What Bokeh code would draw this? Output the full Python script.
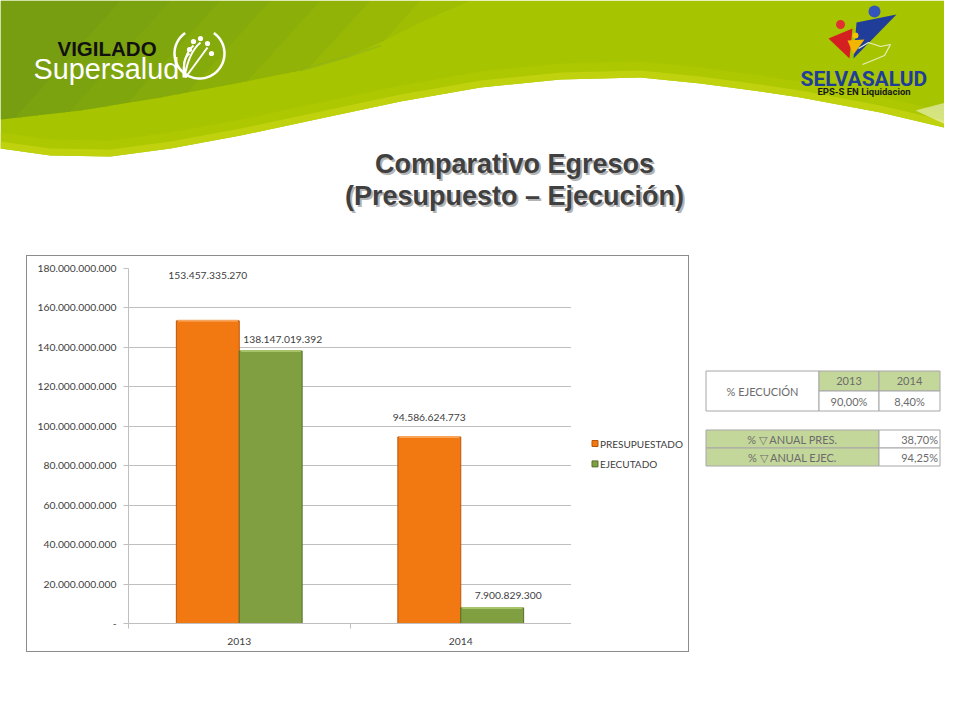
import numpy as np
from bokeh.plotting import figure
from bokeh.models import (Range1d, FixedTicker, CustomJSTickFormatter, ColumnDataSource,
                          LabelSet, Spacer)
from bokeh.layouts import column, row
from bokeh.transform import dodge
from bokeh.core.properties import value
from bokeh.embed import file_html
from bokeh.resources import INLINE

# ---------------- data ----------------
years = ["2013", "2014"]
presupuestado = [153457335270, 94586624773]
ejecutado = [138147019392, 7900829300]
series_names = ["PRESUPUESTADO", "EJECUTADO"]
y_ticks = [0, 20e9, 40e9, 60e9, 80e9, 100e9, 120e9, 140e9, 160e9, 180e9]
title_lines = ["Comparativo Egresos", "(Presupuesto – Ejecución)"]
ejec_label = "% EJECUCIÓN"
ejec_years = ["2013", "2014"]
ejec_pct = ["90,00%", "8,40%"]
var_labels = ["% ▽ ANUAL PRES.", "% ▽ ANUAL EJEC."]
var_values = ["38,70%", "94,25%"]

# label placement (style, screen px)
pres_dx = [0, 0]
pres_dy = [45, 19]
ejec_dx = [12, 16]
ejec_dy = [12, 12]

ORANGE, ORANGE_EDGE, ORANGE_TOP = "#F27812", "#B9560C", "#F8A45A"
GREEN, GREEN_EDGE, GREEN_TOP = "#7F9F40", "#56702A", "#A8C46A"
series_fill = [ORANGE, GREEN]
series_edge = [ORANGE_EDGE, GREEN_EDGE]


def fmt(v):
    return f"{int(v):,}".replace(",", ".")


FONT = "Lato"
TXT = "#404040"
BOX = "1px solid #8C8C8C"

# frame geometry shared by the plots of the chart row (page px)
FR_TOP, FR_BOT = 267, 624

# ---------------- header (page pixel coordinates) ----------------
hdr = figure(width=944, height=255, x_range=Range1d(0, 944), y_range=Range1d(255, 0),
             min_border=0, toolbar_location=None, output_backend="svg",
             x_axis_location=None, y_axis_location=None)
hdr.outline_line_color = None
hdr.grid.visible = False
hdr.background_fill_color = "white"
hdr.border_fill_color = "white"

wx = [0, 50, 110, 170, 240, 320, 400, 480, 560, 640, 700, 760, 800, 880, 960]
wy = [148, 155, 156, 148, 135, 118, 101, 87, 79, 77, 83, 91, 97, 112, 131]
LIME = "#A7C400"
hdr.patch([0, 960] + wx[::-1], [0, 0] + wy[::-1], fill_color=LIME, line_color=None)
hdr.patch(wx + wx[::-1], wy + [y - 16 for y in wy[::-1]], fill_color="#B4CC00",
          fill_alpha=0.5, line_color=None)
hdr.patch(wx + wx[::-1], wy + [y - 7 for y in wy[::-1]], fill_color="#C6D512",
          fill_alpha=0.7, line_color=None)
hdr.patch([915, 960, 960], [110, 98, 131], fill_color="white", fill_alpha=0.5, line_color=None)

# dark green swoosh (upper left), built as soft layers
dbx = np.array([0, 80, 160, 240, 300, 345, 380, 420, 470], dtype=float)
dby = np.array([119, 110, 97, 82, 70, 57, 42, 22, 0], dtype=float)
DARK = "#3F7A2A"
for R in [470, 420, 370, 320, 270, 220, 170, 120]:
    xs_b = np.linspace(0, 470, 300)
    ys_b = np.interp(xs_b, dbx, dby)
    cut = R - 0.9 * ys_b
    idx = np.where(xs_b <= cut)[0]
    xi = xs_b[idx[-1]]
    yi = ys_b[idx[-1]]
    bx = list(xs_b[: idx[-1] + 1][::-1])
    by = list(ys_b[: idx[-1] + 1][::-1])
    hdr.patch([0, R, xi] + bx + [0], [0, 0, yi] + by + [0], fill_color=DARK,
              fill_alpha=0.075, line_color=None)
hdr.line([300, 345, 380], [70, 57, 45], line_color="#8DB020", line_width=2, line_alpha=0.5)

# Supersalud logo
hdr.text(x=[57], y=[48], text=["VIGILADO"], text_font=value("Liberation Sans"),
         text_font_style="bold", text_font_size="20.5px", text_color="#111111",
         text_baseline="middle")
hdr.text(x=[33], y=[68], text=["Supersalud"], text_font=value("Liberation Sans"),
         text_font_size="28.8px", text_color="white", text_baseline="middle")
th = np.linspace(np.radians(-235), np.radians(55), 60)
hdr.line(199 + 25 * np.cos(th), 53 - 25 * np.sin(th), line_color="white", line_width=2.5)
hdr.circle(x=[193, 200, 207, 211, 189], y=[41, 38, 43, 53, 49], radius=2.6,
           fill_color="white", line_color=None)
hdr.quadratic(x0=[183, 184, 185, 186], y0=[77, 77, 77, 77],
              x1=[193, 200, 207, 189], y1=[45, 42, 47, 53],
              cx=[182, 188, 196, 180], cy=[55, 52, 62, 60],
              line_color="white", line_width=2)

# SELVASALUD logo
hdr.patch([856, 896, 853], [22, 14, 58], fill_color="#1F3D99", line_color=None)
hdr.circle(x=[874], y=[11], radius=6, fill_color="#3355BB", line_color=None)
hdr.patch([828, 852, 849], [38, 28, 58], fill_color="#D42020", line_color=None)
hdr.circle(x=[840], y=[24], radius=4.5, fill_color="#E03030", line_color=None)
hdr.patch([847, 864, 853], [40, 39, 54], fill_color="#F2B600", line_color=None)
hdr.circle(x=[855], y=[35], radius=3, fill_color="#F5C000", line_color=None)
hdr.line([858, 868, 880, 890, 884, 872, 862], [48, 42, 46, 44, 55, 60, 64],
         line_color="#E6EFC0", line_width=1.2)
hdr.text(x=[800], y=[78], text=["SELVASALUD"], text_font=value("Roboto"),
         text_font_style="bold", text_font_size="21px", text_color="#1F3D99",
         text_baseline="middle")
hdr.text(x=[817], y=[91], text=["EPS-S EN Liquidacion"],
         text_font=value("Roboto"), text_font_style="bold",
         text_font_size="9.5px", text_color="#1a1a1a", text_baseline="middle")

# title
ty = [163, 195]
hdr.text(x=[516, 516], y=[t + 2 for t in ty], text=title_lines,
         text_font=value("Liberation Sans"), text_font_style="bold",
         text_font_size="27px", text_color="#A0A0A0", text_alpha=0.8,
         text_align="center", text_baseline="middle")
hdr.text(x=[514, 514], y=ty, text=title_lines,
         text_font=value("Liberation Sans"), text_font_style="bold",
         text_font_size="27px", text_color=TXT,
         text_align="center", text_baseline="middle")

# ---------------- bar chart ----------------
centers = [i + 0.5 for i in range(len(years))]
p = figure(width=545, height=397, x_range=Range1d(0, len(years)),
           y_range=Range1d(0, 180e9),
           min_border_left=101, min_border_right=1, min_border_top=11, min_border_bottom=29,
           toolbar_location=None, output_backend="svg")
p.styles = {"border-top": BOX, "border-left": BOX, "border-bottom": BOX}
p.outline_line_color = None
p.background_fill_color = "white"
p.border_fill_color = "white"

src = ColumnDataSource(dict(
    x=centers, pres=presupuestado, ejec=ejecutado,
    pres_lbl=[fmt(v) for v in presupuestado], ejec_lbl=[fmt(v) for v in ejecutado],
    pdx=pres_dx, pdy=pres_dy, edx=ejec_dx, edy=ejec_dy))

BW = 0.284
p.vbar(x=dodge("x", -BW / 2, range=p.x_range), top="pres", bottom=0, width=BW,
       source=src, fill_color=ORANGE, line_color=ORANGE_EDGE, line_width=1)
p.vbar(x=dodge("x", BW / 2, range=p.x_range), top="ejec", bottom=0, width=BW,
       source=src, fill_color=GREEN, line_color=GREEN_EDGE, line_width=1)
# light bevel on the top edge of each bar
e = 0.006
p.segment(x0=dodge("x", -BW + e, range=p.x_range), x1=dodge("x", -e, range=p.x_range),
          y0="pres", y1="pres", source=src, line_color=ORANGE_TOP, line_width=2)
p.segment(x0=dodge("x", e, range=p.x_range), x1=dodge("x", BW - e, range=p.x_range),
          y0="ejec", y1="ejec", source=src, line_color=GREEN_TOP, line_width=2)

lab_kw = dict(text_font=value(FONT), text_font_size="10.3px", text_color=TXT,
              text_align="center", text_baseline="middle", source=src)
p.add_layout(LabelSet(x=dodge("x", -BW / 2, range=p.x_range), y="pres", text="pres_lbl",
                      x_offset="pdx", y_offset="pdy", **lab_kw))
p.add_layout(LabelSet(x=dodge("x", BW / 2, range=p.x_range), y="ejec", text="ejec_lbl",
                      x_offset="edx", y_offset="edy", **lab_kw))

AX = "#BFBFBF"
p.yaxis.ticker = FixedTicker(ticks=y_ticks)
p.yaxis.formatter = CustomJSTickFormatter(code="""
if (Math.abs(tick) < 1) { return '-'; }
return Math.round(tick).toString().replace(/\\B(?=(\\d{3})+(?!\\d))/g, '.');
""")
p.yaxis.axis_line_color = AX
p.yaxis.major_tick_line_color = AX
p.yaxis.major_tick_in = 0
p.yaxis.major_tick_out = 5
p.yaxis.minor_tick_line_color = None
p.yaxis.major_label_standoff = 7
p.yaxis.major_label_text_font = FONT
p.yaxis.major_label_text_font_size = "10.3px"
p.yaxis.major_label_text_color = TXT

p.xaxis.ticker = FixedTicker(ticks=centers, minor_ticks=list(range(len(years) + 1)))
p.xaxis.formatter = CustomJSTickFormatter(args=dict(labels=years),
                                          code="return labels[Math.floor(tick)];")
p.xaxis.axis_line_color = AX
p.xaxis.major_tick_line_color = None
p.xaxis.minor_tick_line_color = AX
p.xaxis.minor_tick_in = 0
p.xaxis.minor_tick_out = 5
p.xaxis.major_label_standoff = 8
p.xaxis.major_label_text_font = FONT
p.xaxis.major_label_text_font_size = "10.3px"
p.xaxis.major_label_text_color = TXT

p.xgrid.grid_line_color = None
p.ygrid.ticker = FixedTicker(ticks=y_ticks)
p.ygrid.grid_line_color = AX

# ---------------- legend panel (right part of the chart box) ----------------
lg = figure(width=118, height=397, x_range=Range1d(572, 690),
            y_range=Range1d(FR_BOT, FR_TOP),
            min_border_left=0, min_border_right=0, min_border_top=11, min_border_bottom=29,
            toolbar_location=None, output_backend="svg",
            x_axis_location=None, y_axis_location=None)
lg.styles = {"border-top": BOX, "border-right": BOX, "border-bottom": BOX}
lg.outline_line_color = None
lg.grid.visible = False
lg.border_fill_color = "white"
leg_y = [443, 463.5]
lg.quad(left=[592.5] * 2, right=[598.5] * 2, top=[y - 3 for y in leg_y],
        bottom=[y + 3 for y in leg_y], fill_color=series_fill, line_color=series_edge)
lg.text(x=[600.5] * 2, y=leg_y, text=series_names, text_font=value(FONT),
        text_font_size="10px", text_color=TXT, text_baseline="middle")

# ---------------- tables ----------------
tbl = figure(width=253, height=399, x_range=Range1d(691, 944),
             y_range=Range1d(FR_BOT, FR_TOP),
             min_border_left=0, min_border_right=0, min_border_top=12, min_border_bottom=30,
             toolbar_location=None, output_backend="svg",
             x_axis_location=None, y_axis_location=None)
tbl.outline_line_color = None
tbl.grid.visible = False
GRID = "#A6A6A6"
HEAD = "#C4D79B"
TT = "#6B6B6B"
c0, c1, c2, c3 = 707.5, 820.5, 880.5, 941.5
r0, rm, rb = 370.5, 390.5, 410.5
tbl.quad(left=[c0], right=[c1], top=[r0], bottom=[rb], fill_color="white", line_color=GRID)
tbl.quad(left=[c1, c2], right=[c2, c3], top=[r0, r0], bottom=[rm, rm],
         fill_color=HEAD, line_color=GRID)
tbl.quad(left=[c1, c2], right=[c2, c3], top=[rm, rm], bottom=[rb, rb],
         fill_color="white", line_color=GRID)
tk = dict(text_font=value(FONT), text_font_size="11px", text_color=TT, text_baseline="middle")
tbl.text(x=[(c0 + c1) / 2], y=[(r0 + rb) / 2], text=[ejec_label], text_align="center", **tk)
tbl.text(x=[(c1 + c2) / 2, (c2 + c3) / 2], y=[(r0 + rm) / 2] * 2, text=ejec_years,
         text_align="center", **tk)
tbl.text(x=[(c1 + c2) / 2, (c2 + c3) / 2], y=[(rm + rb) / 2] * 2, text=ejec_pct,
         text_align="center", **tk)

s0, s1, s2 = 429.5, 447.5, 465.5
tbl.quad(left=[c0, c0], right=[c2, c2], top=[s0, s1], bottom=[s1, s2],
         fill_color=HEAD, line_color=GRID)
tbl.quad(left=[c2, c2], right=[c3, c3], top=[s0, s1], bottom=[s1, s2],
         fill_color="white", line_color=GRID)
tbl.text(x=[(c0 + c2) / 2] * 2, y=[(s0 + s1) / 2, (s1 + s2) / 2], text=var_labels,
         text_align="center", **tk)
tbl.text(x=[c3 - 2] * 2, y=[(s0 + s1) / 2, (s1 + s2) / 2], text=var_values,
         text_align="right", **tk)

layout = column(hdr, row(Spacer(width=26, height=399), p, lg, tbl),
                Spacer(width=944, height=50))

open("out.html", "w").write(file_html(layout, INLINE))
